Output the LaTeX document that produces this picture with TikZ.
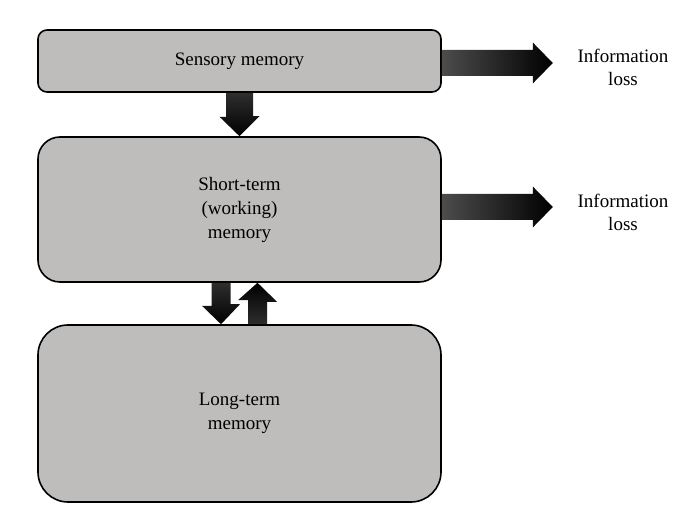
\documentclass[tikz,border=0pt]{standalone}
\usepackage{fontspec}
\setmainfont{Liberation Serif}
\usetikzlibrary{calc}
\definecolor{boxgray}{HTML}{BEBDBC}

\begin{document}
\begin{tikzpicture}[
x=1pt, y=1pt,
box/.style={draw, line width=1.6pt, fill=boxgray, minimum width=403pt, align=center, font=\fontsize{19}{24}\selectfont},
loss/.style={align=center, font=\fontsize{19}{23}\selectfont},
downarr/.style={top color=black!82, bottom color=black},
uparr/.style={bottom color=black!82, top color=black},
sidearr/.style={left color=black!70, middle color=black, right color=black}
]
\useasboundingbox (0,0) rectangle (689,512);
\node[box, rounded corners=9pt, minimum height=62pt] (sens) at (239.5,451) {Sensory memory};
\node[box, rounded corners=22pt, minimum height=145pt] (stm) at (239.5,302.5) {Short-term\\(working)\\memory};
\node[box, rounded corners=30pt, minimum height=177pt] (ltm) at (239.5,98.5) {Long-term\\memory};
\node[loss] (loss1) at (623,445) {Information\\loss};
\node[loss] (loss2) at (623,299.5) {Information\\loss};
\coordinate (tip1) at ($(sens.east)+(111,-2)$);
\coordinate (tip2) at ($(stm.east)+(111,2.5)$);
\shade[downarr] ($(sens.south)+(-13.5,0)$) -- ++(0,-24) -- ++(-6.5,0) -- (stm.north) -- ++(20,20) -- ++(-6.5,0) -- ($(sens.south)+(13.5,0)$) -- cycle;
\shade[downarr] ($(stm.south)+(-28,0)$) -- ++(0,-23) -- ++(-9.5,0) -- ($(ltm.north)+(-18.5,0)$) -- ++(19,20) -- ++(-9.5,0) -- ($(stm.south)+(-9,0)$) -- cycle;
\shade[uparr] ($(ltm.north)+(8.5,0)$) -- ++(0,24) -- ++(-10,0) -- ($(stm.south)+(18,0)$) -- ++(19.5,-19) -- ++(-10,0) -- ($(ltm.north)+(27.5,0)$) -- cycle;
\shade[sidearr] ($(sens.east)+(0,11)$) -- ($(tip1)+(-20,13)$) -- ++(0,7.5) -- (tip1) -- ++(-20,-20.5) -- ++(0,7.5) -- ($(sens.east)+(0,-15)$) -- cycle;
\shade[sidearr] ($(stm.east)+(0,15.5)$) -- ($(tip2)+(-20,13)$) -- ++(0,7.5) -- (tip2) -- ++(-20,-20.5) -- ++(0,7.5) -- ($(stm.east)+(0,-10.5)$) -- cycle;
\end{tikzpicture}
\end{document}
